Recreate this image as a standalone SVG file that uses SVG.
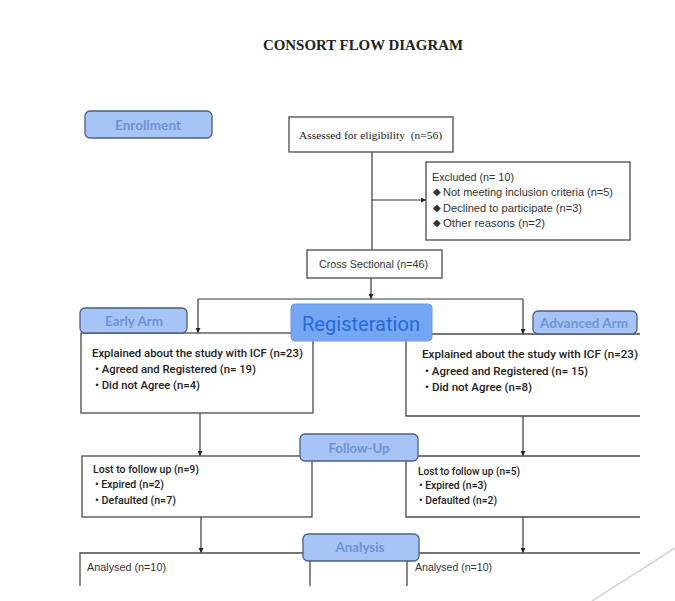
<svg xmlns="http://www.w3.org/2000/svg" width="675" height="601" viewBox="0 0 675 601">
<defs>
<marker id="ah" viewBox="0 0 10 10" refX="10" refY="5" markerWidth="5" markerHeight="5" orient="auto" markerUnits="userSpaceOnUse">
<path d="M0,0 L10,5 L0,10 Z" fill="#222"/>
</marker>
<style>
.box{fill:#fff;stroke:#4a4a4a;stroke-width:1.3}
.open{fill:none;stroke:#4a4a4a;stroke-width:1.3}
.con{fill:none;stroke:#3a3a3a;stroke-width:1.2}
.tag{fill:#a6c4f5;stroke:#4e5f80;stroke-width:1.3}
.tagt{font-family:Lato,"Open Sans",sans-serif;font-size:12.5px;font-weight:bold;fill:#6f93d6;text-anchor:middle}
.ser{font-family:"Liberation Serif",serif;fill:#222}
.sans{font-family:"Liberation Sans",Arial,sans-serif;font-size:10px;fill:#333}
.rob{font-family:Roboto,"Liberation Sans",sans-serif;font-weight:500;fill:#222}
</style>
</defs>
<rect width="675" height="601" fill="#fff"/>
<line x1="592" y1="601" x2="675" y2="548" stroke="#d6d6d6" stroke-width="1.6"/>

<text class="ser" x="363" y="50" font-size="14" font-weight="bold" text-anchor="middle" textLength="200" lengthAdjust="spacingAndGlyphs">CONSORT FLOW DIAGRAM</text>

<g id="connectors">
<path class="con" d="M372,152 V250"/>
<path class="con" d="M372,200 H426" marker-end="url(#ah)"/>
<path class="con" d="M371,278 V299" marker-end="url(#ah)"/>
<path class="con" d="M198,299 H523"/>
<path class="con" d="M198,299 V333" marker-end="url(#ah)"/>
<path class="con" d="M523,299 V334" marker-end="url(#ah)"/>
<path class="con" d="M200,413 V456" marker-end="url(#ah)"/>
<path class="con" d="M523,416 V456" marker-end="url(#ah)"/>
<path class="con" d="M201,517 V553" marker-end="url(#ah)"/>
<path class="con" d="M523,517 V553" marker-end="url(#ah)"/>
</g>

<g id="enrollment">
<rect class="tag" x="85" y="111" width="127" height="27" rx="5"/>
<text class="tagt" x="148" y="130" textLength="66" lengthAdjust="spacingAndGlyphs">Enrollment</text>
</g>

<g id="assessed">
<rect class="box" x="289" y="117" width="164" height="35"/>
<text class="ser" x="299" y="139" font-size="11" textLength="143" lengthAdjust="spacingAndGlyphs" xml:space="preserve" style="white-space:pre">Assessed for eligibility  (n=56)</text>
</g>

<g id="excluded">
<rect class="box" x="426" y="162" width="204" height="78"/>
<text class="sans" x="432" y="181" textLength="82" lengthAdjust="spacingAndGlyphs">Excluded (n= 10)</text>
<text class="sans" x="433" y="195" font-size="7">◆</text>
<text class="sans" x="443" y="196" textLength="170" lengthAdjust="spacingAndGlyphs">Not meeting inclusion criteria (n=5)</text>
<text class="sans" x="433" y="211" font-size="7">◆</text>
<text class="sans" x="443" y="212" textLength="139" lengthAdjust="spacingAndGlyphs">Declined to participate (n=3)</text>
<text class="sans" x="433" y="226" font-size="7">◆</text>
<text class="sans" x="443" y="227" textLength="102" lengthAdjust="spacingAndGlyphs">Other reasons (n=2)</text>
</g>

<g id="cross-sectional">
<rect class="box" x="307" y="250" width="135" height="28"/>
<text class="sans" x="319" y="268" textLength="109" lengthAdjust="spacingAndGlyphs">Cross Sectional (n=46)</text>
</g>

<g id="early-explained">
<rect class="box" x="81" y="333" width="232" height="80"/>
<text class="rob" x="92" y="357" font-size="11.5" textLength="211" lengthAdjust="spacingAndGlyphs">Explained about the study with ICF (n=23)</text>
<text class="rob" x="95" y="373" font-size="11" textLength="161" lengthAdjust="spacingAndGlyphs">• Agreed and Registered (n= 19)</text>
<text class="rob" x="95" y="389" font-size="11" textLength="105" lengthAdjust="spacingAndGlyphs">• Did not Agree (n=4)</text>
</g>

<g id="advanced-explained">
<path class="open" d="M640,334 H406 V416 H640"/>
<text class="rob" x="422" y="358" font-size="11.5" textLength="216" lengthAdjust="spacingAndGlyphs">Explained about the study with ICF (n=23)</text>
<text class="rob" x="425" y="375" font-size="11" textLength="163" lengthAdjust="spacingAndGlyphs">• Agreed and Registered (n= 15)</text>
<text class="rob" x="425" y="391" font-size="11" textLength="107" lengthAdjust="spacingAndGlyphs">• Did not Agree (n=8)</text>
</g>

<g id="early-arm">
<rect class="tag" x="80" y="308" width="107" height="25" rx="5"/>
<text class="tagt" x="134" y="326" textLength="58" lengthAdjust="spacingAndGlyphs">Early Arm</text>
</g>

<g id="advanced-arm">
<rect class="tag" x="533" y="311" width="104" height="23" rx="5"/>
<text class="tagt" x="584" y="328" textLength="88" lengthAdjust="spacingAndGlyphs">Advanced Arm</text>
</g>

<g id="registeration">
<rect x="291" y="304" width="141" height="37" rx="4" fill="#74a6f3" stroke="#6a9be8" stroke-width="1"/>
<text x="361" y="331" font-family="Roboto,'Liberation Sans',sans-serif" font-size="20" fill="#2a68d8" text-anchor="middle" textLength="118" lengthAdjust="spacingAndGlyphs">Registeration</text>
</g>

<g id="early-lost">
<rect class="box" x="82" y="456" width="230" height="61"/>
<text class="rob" x="93" y="473" font-size="10.5" textLength="106" lengthAdjust="spacingAndGlyphs">Lost to follow up (n=9)</text>
<text class="rob" x="95" y="488" font-size="10.5" textLength="69" lengthAdjust="spacingAndGlyphs">• Expired (n=2)</text>
<text class="rob" x="95" y="504" font-size="10.5" textLength="81" lengthAdjust="spacingAndGlyphs">• Defaulted (n=7)</text>
</g>

<g id="advanced-lost">
<path class="open" d="M640,456 H406 V517 H640"/>
<text class="rob" x="418" y="475" font-size="10" textLength="102" lengthAdjust="spacingAndGlyphs">Lost to follow up (n=5)</text>
<text class="rob" x="419" y="489" font-size="10" textLength="68" lengthAdjust="spacingAndGlyphs">• Expired (n=3)</text>
<text class="rob" x="419" y="504" font-size="10" textLength="78" lengthAdjust="spacingAndGlyphs">• Defaulted (n=2)</text>
</g>

<g id="follow-up">
<rect class="tag" x="300" y="434" width="118" height="27" rx="5"/>
<text class="tagt" x="359" y="453" textLength="61" lengthAdjust="spacingAndGlyphs">Follow-Up</text>
</g>

<g id="early-analysed">
<path class="open" d="M80,586 V553 H310 V586"/>
<text class="sans" x="87" y="571" textLength="79" lengthAdjust="spacingAndGlyphs">Analysed (n=10)</text>
</g>

<g id="advanced-analysed">
<path class="open" d="M640,553 H407 V586"/>
<text class="sans" x="415" y="571" textLength="77" lengthAdjust="spacingAndGlyphs">Analysed (n=10)</text>
</g>

<g id="analysis">
<rect class="tag" x="303" y="534" width="116" height="27" rx="5"/>
<text class="tagt" x="360" y="552" textLength="49" lengthAdjust="spacingAndGlyphs">Analysis</text>
</g>
</svg>
